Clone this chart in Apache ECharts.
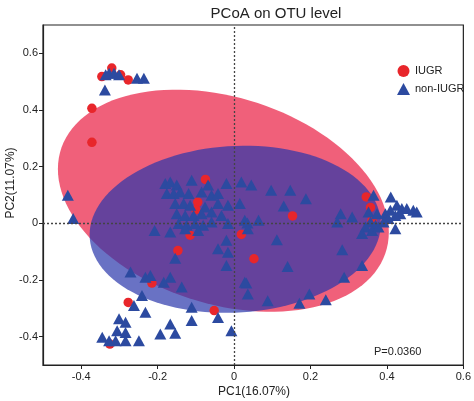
<!DOCTYPE html>
<html>
<head>
<meta charset="utf-8">
<script src="https://cdn.jsdelivr.net/npm/echarts@6/dist/echarts.min.js"></script>
<style>html,body{margin:0;padding:0;background:#fff}#c{width:474px;height:401px}</style>
</head>
<body>
<div id="c"></div>
<script>
// ---- data ----
const seriesNames = ['IUGR', 'non-IUGR'];
const iugrPoints = [
  [-0.372, 0.406], [-0.372, 0.286], [-0.346, 0.518], [-0.320, 0.548], [-0.297, 0.524], [-0.277, 0.506],
  [-0.075, 0.155], [-0.095, 0.075], [-0.100, 0.048], [-0.115, -0.042], [-0.147, -0.096], [0.019, -0.039],
  [0.153, 0.026], [0.052, -0.125], [0.346, 0.093], [0.357, 0.056], [0.361, 0.011],
  [-0.215, -0.211], [-0.277, -0.279], [-0.052, -0.308], [-0.325, -0.426]
];
const nonIugrPoints = [
  [-0.336, 0.524], [-0.327, 0.530], [-0.314, 0.530], [-0.301, 0.524], [-0.254, 0.512], [-0.236, 0.512], [-0.338, 0.471],
  [-0.435, 0.099], [-0.421, 0.017],
  [-0.180, 0.141], [-0.167, 0.146], [-0.150, 0.135], [-0.111, 0.152], [-0.068, 0.135], [-0.020, 0.141], [0.019, 0.146],
  [-0.176, 0.105], [-0.158, 0.105], [-0.141, 0.111], [-0.119, 0.105], [-0.085, 0.111], [-0.059, 0.099], [-0.042, 0.105],
  [-0.154, 0.070], [-0.132, 0.070], [-0.115, 0.064], [-0.076, 0.058], [-0.042, 0.070], [-0.016, 0.064], [0.015, 0.070],
  [-0.150, 0.034], [-0.128, 0.028], [-0.106, 0.028], [-0.085, 0.034], [-0.059, 0.040], [-0.033, 0.028],
  [-0.145, -0.001], [-0.124, -0.007], [-0.102, -0.001], [-0.081, -0.007], [-0.059, 0.005], [-0.016, -0.001], [0.028, 0.011],
  [-0.208, -0.025], [-0.167, -0.031], [-0.128, -0.019], [-0.094, -0.025],
  [-0.020, -0.060], [-0.042, -0.090], [-0.016, -0.102], [-0.154, -0.123],
  [0.045, 0.135], [0.097, 0.117], [0.147, 0.117], [0.188, 0.087], [0.130, 0.061], [0.035, 0.001], [0.064, 0.011],
  [0.036, -0.019], [0.112, -0.058], [0.279, 0.034], [0.309, 0.022], [0.270, 0.005], [0.283, -0.093], [0.140, -0.152],
  [0.032, -0.211], [0.036, -0.249], [0.088, -0.273], [0.197, -0.249], [0.171, -0.282], [0.240, -0.270], [0.288, -0.190],
  [0.335, -0.149], [0.028, -0.208], [-0.020, -0.149],
  [0.365, 0.099], [0.410, 0.093], [0.426, 0.064], [0.352, 0.040], [0.374, 0.034], [0.396, 0.034], [0.409, 0.046],
  [0.439, 0.052], [0.452, 0.052], [0.469, 0.046], [0.478, 0.040], [0.435, 0.034], [0.422, 0.028], [0.404, 0.017],
  [0.422, -0.019], [0.357, 0.005], [0.370, -0.007], [0.344, -0.013], [0.335, -0.036], [0.361, -0.025], [0.378, -0.013],
  [0.391, 0.005],
  [-0.271, -0.172], [-0.232, -0.190], [-0.219, -0.184], [-0.241, -0.255], [-0.167, -0.190], [-0.184, -0.208],
  [-0.137, -0.225], [-0.262, -0.290], [-0.232, -0.314], [-0.111, -0.296], [-0.111, -0.343], [-0.042, -0.332],
  [-0.007, -0.379], [-0.167, -0.355], [-0.154, -0.388], [-0.193, -0.391], [-0.301, -0.337], [-0.284, -0.349],
  [-0.306, -0.379], [-0.284, -0.385], [-0.345, -0.402], [-0.327, -0.414], [-0.310, -0.414], [-0.284, -0.414],
  [-0.249, -0.414]
];
// confidence ellipses: [centerX, centerY, sdX, sdY, correlation]
const iugrEllipse = [-0.028, 0.080, 0.433, 0.392, -0.285];
const nonIugrEllipse = [0.003, -0.021, 0.381, 0.295, 0.065];
const xTicks = [-0.4, -0.2, 0, 0.2, 0.4, 0.6];
const yTicks = [-0.4, -0.2, 0, 0.2, 0.4, 0.6];
const axisTitles = ['PC1(16.07%)', 'PC2(11.07%)'];
const chartTitle = 'PCoA on OTU level';
const pText = 'P=0.0360';

// ---- chart ----
const FONT = '"Liberation Sans", Arial, sans-serif';
const chart = echarts.init(document.getElementById('c'));

function ellipseRenderer(e, fill, opacity) {
  return function (params, api) {
    const [cx, cy, sx, sy, rho] = e;
    const pts = [];
    const N = 120;
    const k = Math.sqrt(1 - rho * rho);
    for (let i = 0; i < N; i++) {
      const t = 2 * Math.PI * i / N;
      const x = cx + sx * Math.cos(t);
      const y = cy + sy * (rho * Math.cos(t) + k * Math.sin(t));
      pts.push(api.coord([x, y]));
    }
    return { type: 'polygon', shape: { points: pts }, style: { fill: fill, opacity: opacity } };
  };
}

chart.setOption({
  animation: false,
  backgroundColor: '#fff',
  title: {
    text: chartTitle, left: 271, top: 1, textAlign: 'center',
    textStyle: { fontFamily: FONT, fontSize: 15, fontWeight: 'normal', color: '#222' }
  },
  legend: {
    orient: 'vertical', left: 392, top: 60, itemWidth: 13, itemHeight: 12, itemGap: 6,
    textStyle: { fontFamily: FONT, fontSize: 11, color: '#222' },
    data: [{ name: seriesNames[0], icon: 'circle' }, { name: seriesNames[1], icon: 'triangle' }]
  },
  grid: { left: 43, right: 8, top: 25, bottom: 36, show: true, borderColor: '#222', borderWidth: 1.2, backgroundColor: 'transparent' },
  xAxis: {
    type: 'value', min: -0.5, max: 0.6,
    axisLine: { show: true, onZero: false, lineStyle: { color: '#222', width: 1.2 } },
    axisTick: { show: true, customValues: xTicks, length: 4, lineStyle: { color: '#222' } },
    axisLabel: { customValues: xTicks, fontFamily: FONT, fontSize: 11, color: '#222', margin: 6 },
    splitLine: { show: false }
  },
  yAxis: {
    type: 'value', min: -0.5, max: 0.7,
    axisLine: { show: true, onZero: false, lineStyle: { color: '#222', width: 1.2 } },
    axisTick: { show: true, customValues: yTicks, length: 4, lineStyle: { color: '#222' } },
    axisLabel: { customValues: yTicks, fontFamily: FONT, fontSize: 11, color: '#222', margin: 5 },
    splitLine: { show: false }
  },
  graphic: [
    { type: 'text', left: 218, top: 386, style: { text: axisTitles[0], font: '12px ' + FONT, fill: '#222' } },
    { type: 'text', x: 5, y: 183, rotation: Math.PI / 2, style: { text: axisTitles[1], font: '12px ' + FONT, fill: '#222', align: 'center', verticalAlign: 'top' } },
    { type: 'text', left: 374, top: 346, style: { text: pText, font: '11px ' + FONT, fill: '#222' } }
  ],
  series: [
    { type: 'custom', name: 'ellipse-iugr', silent: true, renderItem: ellipseRenderer(iugrEllipse, '#F0607A', 1), data: [[iugrEllipse[0], iugrEllipse[1]]], z: 1 },
    { type: 'custom', name: 'ellipse-non', silent: true, renderItem: ellipseRenderer(nonIugrEllipse, '#2A36AB', 0.7), data: [[nonIugrEllipse[0], nonIugrEllipse[1]]], z: 1,
      markLine: { silent: true, symbol: 'none', label: { show: false },
        lineStyle: { type: [2, 2], color: '#444', width: 1.3 },
        data: [{ xAxis: 0 }, { yAxis: 0 }] } },
    { type: 'scatter', name: seriesNames[0], data: iugrPoints, symbol: 'circle', symbolSize: 9.5,
      itemStyle: { color: '#E8262B', opacity: 1 }, z: 3 },
    { type: 'scatter', name: seriesNames[1], data: nonIugrPoints, symbol: 'triangle', symbolSize: [12, 11],
      itemStyle: { color: '#2C4AA0', opacity: 1 }, z: 4 }
  ]
});
</script>
</body>
</html>
